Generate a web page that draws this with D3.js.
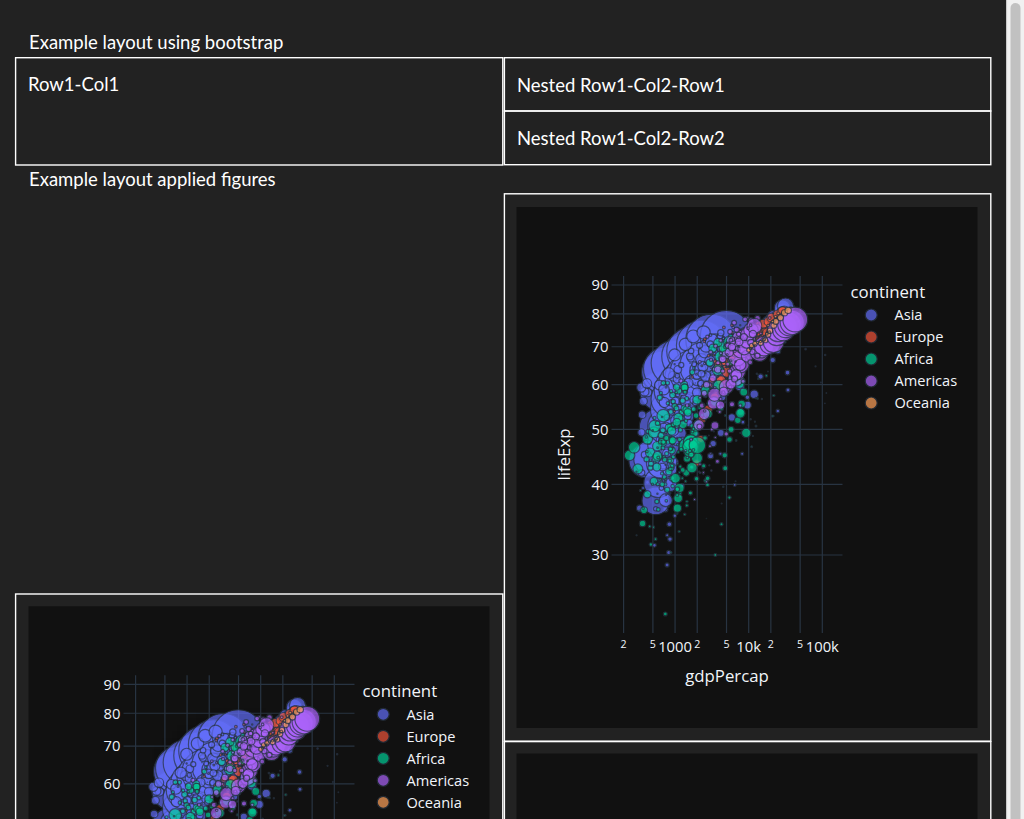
<!DOCTYPE html>
<html><head><meta charset="utf-8">
<script src="https://cdn.jsdelivr.net/npm/d3@7"></script>
<style>
html,body{margin:0;padding:0;background:#222222;overflow:hidden;}
svg{display:block;}
</style></head><body>
<svg id="page" width="1024" height="819"></svg>
<script>
// ---------------- data (gdpPercap, lifeExp, pop in millions) ----------------
const continents = ["Asia","Europe","Africa","Americas","Oceania"];
const colors = ["#636efa","#EF553B","#00cc96","#ab63fa","#FFA15A"];

const asia = [
[779,28.8,8.4],[821,30.3,9.2],[853,32.0,10.3],[836,34.0,11.5],[740,36.1,13.1],[786,38.4,14.9],[978,39.9,12.9],[852,40.8,13.9],[649,41.7,16.3],[635,41.8,22.2],[727,42.1,25.3],[975,43.8,31.9],
[9867,50.9,0.12],[12753,56.9,0.17],[18268,63.3,0.23],[19211,69.1,0.38],[19036,72.6,0.53],[23404,74.8,0.66],[29796,75.6,0.71],
[684,37.5,46.9],[662,39.3,51.4],[686,41.2,56.8],[721,43.5,62.8],[630,45.3,70.8],[660,46.9,80.4],[677,50.0,93.1],[752,52.8,103.8],[838,56.0,113.7],[973,59.4,123.3],[1136,62.0,135.7],[1391,64.1,150.4],
[368,39.4,4.7],[497,43.4,6.1],[422,40.3,7.5],[525,31.2,7.0],[625,51.0,7.3],[682,55.8,10.2],[896,56.8,12.9],[1714,59.7,14.1],
[400,44.0,556.3],[576,50.5,637.4],[488,44.5,665.8],[613,58.4,754.6],[677,63.1,862.0],[741,64.0,943.5],[962,65.5,1000.3],[1379,67.3,1084.0],[1656,68.7,1165.0],[2289,70.4,1230.1],[3119,72.0,1280.4],[4959,73.0,1318.7],
[3054,61.0,2.1],[4693,67.7,3.3],[8315,72.0,4.1],[14561,75.5,5.3],[24758,77.6,5.8],[30209,81.5,6.8],[39725,82.2,7.0],
[547,37.4,372.0],[590,40.2,409.0],[658,43.6,454.0],[701,47.2,506.0],[724,50.7,567.0],[813,54.2,634.0],[856,56.6,708.0],[977,58.6,788.0],[1164,60.2,872.0],[1459,61.8,959.0],[1747,62.9,1034.2],[2452,64.7,1110.4],
[750,37.5,82.1],[859,39.9,90.1],[849,42.5,99.0],[762,46.0,109.3],[1111,49.2,121.3],[1383,52.7,136.7],[1517,56.2,153.3],[1748,60.1,169.3],[2383,62.7,184.8],[3119,66.0,199.3],[2874,68.6,211.1],[3541,70.6,223.5],
[3035,44.9,17.3],[3290,47.2,19.8],[4187,49.3,22.9],[5907,52.5,26.5],[9614,55.2,30.6],[11889,57.7,35.5],[7608,59.6,43.1],[6643,63.0,51.9],[7235,65.7,60.4],[8264,68.0,63.5],[9241,69.5,66.9],[11606,71.0,69.5],
[4130,45.3,5.4],[8342,51.5,7.2],[9576,57.0,10.1],[14517,62.0,14.2],[3746,59.5,17.9],[4391,57.0,24.0],[4471,59.5,27.5],
[4087,65.4,1.6],[7106,69.4,2.3],[12786,71.6,3.1],[15367,74.5,3.9],[18051,76.9,4.9],[21906,79.7,6.0],[25523,80.7,6.4],
[3217,63.0,86.5],[4318,65.5,91.6],[6577,68.7,95.8],[9847,71.4,100.8],[14779,73.4,107.2],[16610,75.4,113.9],[19384,77.1,118.5],[22376,78.7,122.1],[26825,79.4,124.3],[28817,80.7,125.6],[28605,82.0,127.1],[31656,82.6,127.5],
[1547,43.2,0.6],[2348,48.1,0.9],[2110,56.5,1.6],[4162,63.7,2.3],[3431,68.0,3.9],[3845,71.3,5.3],[4519,72.5,6.1],
[1088,50.1,8.9],[1621,56.7,11.0],[3702,64.0,14.8],[4107,69.1,17.6],[3726,70.0,20.7],[1647,66.7,22.2],[1593,67.3,23.3],
[1031,47.5,20.9],[1488,52.7,22.6],[1536,55.3,26.4],[2029,57.7,30.1],[3031,62.6,33.5],[4657,64.8,36.4],[5623,67.1,39.3],[8533,69.8,41.6],[12104,72.2,43.8],[15994,74.6,46.2],[19234,77.0,48.0],[23348,78.6,49.0],
[108382,55.6,0.16],[113523,58.0,0.21],[95458,60.5,0.36],[80895,64.6,0.58],[109348,67.7,0.84],[59265,69.3,1.14],[31354,71.3,1.5],[28118,74.2,1.9],[34933,75.2,1.4],[35110,76.9,2.1],[47307,77.6,2.5],
[4835,55.9,1.4],[5715,62.1,1.9],[7486,65.4,2.7],[7640,67.0,3.1],[6890,69.3,3.2],[9313,71.0,3.7],[10461,72.0,3.9],
[1831,48.5,6.7],[2036,55.7,8.9],[2849,63.0,11.4],[4920,68.0,14.4],[7739,70.7,18.3],[10207,73.0,22.7],[12452,74.2,24.8],
[786,42.2,0.8],[1056,48.3,1.0],[1422,53.8,1.3],[2000,57.5,1.8],[1786,61.3,2.3],[2140,65.0,2.7],[3096,66.8,2.9],
[331,36.3,20.1],[350,41.9,21.7],[388,45.1,23.6],[349,49.4,25.9],[357,53.1,28.5],[371,56.1,31.5],[424,58.1,34.7],[385,58.3,38.0],[347,59.3,40.5],[415,60.3,43.2],[611,59.9,45.6],[944,62.1,47.8],
[546,36.2,9.2],[652,39.4,10.3],[674,44.0,12.4],[718,49.6,15.8],[775,52.5,17.2],[898,55.7,20.3],[1057,61.3,25.9],[1091,63.8,28.9],
[1828,37.6,0.5],[2925,43.2,0.63],[10619,52.1,0.83],[12955,62.7,1.3],[18617,71.2,1.9],[19775,74.2,2.7],[22316,75.6,3.2],
[685,43.4,41.3],[747,45.6,46.7],[803,47.7,53.1],[942,49.8,60.6],[1050,51.9,69.3],[1176,54.0,78.2],[1444,56.2,91.5],[1705,58.2,105.2],[1972,60.8,120.1],[2050,61.8,135.6],[2093,63.6,153.4],[2606,65.5,169.3],
[1273,47.8,22.4],[1548,51.3,26.1],[1650,54.8,30.3],[1814,56.4,35.4],[1989,58.1,40.9],[2374,60.1,46.9],[2603,62.1,53.5],[2190,64.2,60.0],[2279,66.5,67.2],[2536,68.6,75.0],[2651,70.3,83.0],[3190,71.7,91.1],
[6460,39.9,4.0],[8158,45.3,4.9],[24837,53.9,6.5],[34168,58.7,8.1],[33693,63.0,11.3],[21199,66.3,14.6],[24841,68.8,16.9],[19014,71.6,24.5],[21655,72.8,27.6],
[2315,60.4,1.1],[3675,65.8,1.75],[8598,69.5,2.2],[15169,71.8,2.65],[24770,75.8,3.2],[36023,78.8,4.2],[47143,80.0,4.55],
[1084,57.6,8.0],[1074,62.2,10.4],[1213,65.0,13.0],[1648,68.8,15.4],[2154,70.4,17.6],[3016,70.8,19.6],[3970,72.4,20.4],
[1644,45.9,3.7],[2193,51.0,4.8],[2571,57.3,6.7],[3761,64.6,9.4],[3341,69.2,13.2],[4090,73.1,17.2],[4185,74.1,19.3],
[1207,58.5,8.6],[1822,65.2,11.9],[4062,69.4,15.2],[7427,72.2,18.5],[15216,74.3,20.7],[23235,77.0,22.5],[28718,78.4,23.2],
[758,50.8,21.3],[874,53.6,25.0],[1003,56.1,29.3],[1287,58.3,34.0],[1525,60.4,39.3],[1961,62.5,44.1],[2394,64.6,48.8],[2982,66.1,52.9],[4616,67.3,56.7],[5853,67.5,60.0],[5913,68.6,62.8],[7458,70.6,65.1],
[605,40.4,26.2],[676,42.9,28.9],[772,45.4,33.8],[637,47.8,39.5],[700,50.3,44.7],[714,55.8,50.5],[707,58.8,56.1],[821,62.8,62.8],[989,67.7,69.9],[1386,70.7,76.0],[1764,73.0,80.9],[2442,74.2,85.3],
[1516,43.2,1.0],[2348,48.1,1.1],[3133,56.5,1.1],[4336,64.4,1.4],[6018,69.7,1.9],[4516,72.4,3.4],[3025,73.4,4.0],
[782,32.5,5.0],[992,35.2,6.1],[1265,39.8,7.4],[1978,49.1,9.7],[1879,55.6,13.4],[2235,60.3,18.7],[2281,62.7,22.2]
];

const europe = [
[1601,55.2,1.3],[2313,64.8,1.7],[3313,67.7,2.3],[3631,70.4,2.8],[2497,71.6,3.3],[4604,75.7,3.5],[5937,76.4,3.6],
[6137,66.8,6.9],[10751,69.5,7.1],[16662,70.6,7.5],[21597,73.2,7.6],[27042,76.0,7.9],[32418,79.0,8.1],[36126,79.8,8.2],
[8343,68.0,8.7],[10991,70.3,9.2],[19118,71.4,9.7],[23030,73.9,9.9],[25576,76.5,10.0],[30486,78.3,10.3],[33693,79.4,10.4],
[974,53.8,2.8],[1710,61.9,3.3],[2860,67.5,3.8],[4126,70.7,4.2],[2547,72.2,4.3],[6019,74.1,4.2],[7446,74.9,4.6],
[2444,59.6,7.3],[4255,69.5,8.0],[6597,70.9,8.6],[8224,71.1,8.9],[6303,71.2,8.7],[7697,72.1,7.7],[10681,73.0,7.3],
[3119,61.2,3.9],[5477,67.1,4.1],[9164,69.6,4.2],[13221,70.5,4.4],[8448,72.5,4.5],[11628,74.9,4.5],[14619,75.7,4.5],
[6876,66.9,9.1],[10137,69.9,9.6],[13108,70.3,9.9],[15377,71.0,10.3],[14297,72.4,10.3],[17596,75.5,10.3],[22833,76.5,10.2],
[9692,70.8,4.3],[13583,72.4,4.6],[18866,73.5,5.0],[21688,74.6,5.1],[26407,75.3,5.2],[32167,77.2,5.4],[35278,78.3,5.5],
[6425,66.6,4.1],[9372,68.8,4.5],[14359,70.9,4.6],[18533,74.6,4.8],[20647,75.7,5.0],[28205,78.4,5.2],[33207,79.3,5.2],
[7030,67.4,42.5],[8663,68.9,44.3],[10560,70.5,47.1],[12999,71.6,49.9],[16107,72.4,51.7],[18293,73.8,53.2],[20294,74.9,54.4],[22066,76.3,55.6],[24704,77.5,57.4],[25890,78.6,58.6],[28926,79.6,59.9],[30470,80.7,61.1],
[7144,67.5,69.1],[10188,69.1,71.0],[12902,70.3,73.7],[14746,70.8,76.4],[18016,71.0,78.7],[20513,72.5,78.2],[22032,73.8,78.3],[24639,74.8,77.7],[26505,76.1,80.6],[27789,77.3,82.0],[30036,78.7,82.4],[32170,79.4,82.4],
[3531,65.9,7.7],[6017,69.5,8.4],[12725,72.3,8.9],[15268,75.2,9.8],[17541,77.0,10.3],[22514,78.3,10.6],[27538,79.5,10.7],
[5264,64.0,9.5],[7550,68.0,10.0],[10168,69.8,10.4],[12546,69.4,10.7],[10536,69.2,10.3],[14843,72.6,10.1],[18009,73.3,10.0],
[7268,72.5,0.15],[10350,73.7,0.18],[15798,74.5,0.21],[23270,77.0,0.23],[25144,78.8,0.26],[31163,80.5,0.29],[36181,81.8,0.3],
[5211,66.9,2.95],[6632,70.3,2.8],[9530,71.3,3.0],[12618,73.1,3.5],[17559,75.5,3.56],[34077,77.8,3.9],[40676,78.9,4.1],
[4931,65.9,47.7],[6249,67.8,49.2],[8244,69.2,50.8],[10022,71.1,52.7],[12269,72.2,54.4],[14256,73.5,56.1],[16537,75.0,56.5],[19208,76.4,56.7],[22014,77.4,56.8],[24675,78.8,57.5],[27968,80.2,57.9],[28570,80.5,58.1],
[2648,59.2,0.41],[7778,70.6,0.53],[7003,75.4,0.62],[9254,74.5,0.68],
[8942,72.1,10.4],[12791,73.2,11.8],[18795,73.8,13.3],[21399,76.0,14.3],[26791,77.4,15.2],[33725,78.5,16.1],[36798,79.8,16.6],
[10095,72.7,3.3],[13450,73.5,3.6],[18965,74.3,3.9],[26299,76.0,4.1],[33966,77.3,4.3],[44684,79.1,4.5],[49357,80.2,4.6],
[4029,61.3,25.7],[4734,65.8,28.2],[5339,67.6,30.3],[6557,69.6,31.8],[8007,70.9,33.0],[9508,70.7,34.6],[8451,71.3,36.2],[9082,71.0,37.7],[7739,71.0,38.4],[10160,72.8,38.65],[12002,74.7,38.6],[15390,75.6,38.5],
[3068,59.8,8.5],[4728,64.4,9.0],[9022,69.3,9.0],[11753,72.8,9.9],[16207,74.9,9.9],[19971,77.3,10.4],[20510,78.1,10.6],
[3145,61.1,16.6],[4734,66.8,18.7],[8011,69.2,20.7],[9605,69.7,22.4],[6598,69.4,22.8],[7992,71.3,22.4],[10808,72.5,22.3],
[3581,58.0,6.7],[6289,64.5,7.6],[10523,68.7,8.3],[15182,70.2,9.0],[9325,71.7,9.8],[7236,73.2,10.1],[9787,74.0,10.2],
[5074,64.4,3.6],[11402,70.4,4.6],[9498,71.4,5.3],[18678,74.7,5.4],
[4215,65.6,1.5],[12383,69.8,1.7],[14214,73.6,2.0],[25768,77.9,2.0],
[3834,64.9,28.5],[4564,66.7,29.8],[5694,69.7,31.2],[7994,71.4,32.9],[10639,73.1,34.5],[13236,74.4,36.4],[13926,76.3,38.0],[15765,76.9,38.9],[18603,77.6,39.5],[20445,78.8,39.9],[24835,79.8,40.2],[28821,80.9,40.4],
[8528,71.9,7.1],[12329,73.4,7.6],[17832,74.7,8.1],[20667,76.4,8.3],[23880,78.2,8.7],[29342,80.0,8.95],[33860,80.9,9.0],
[14734,69.6,4.8],[20431,71.3,5.7],[27195,73.8,6.4],[28398,76.2,6.5],[31872,78.0,7.0],[34481,80.6,7.4],[37506,81.7,7.55],
[1969,43.6,22.2],[2219,48.1,25.7],[2323,52.1,29.8],[2827,54.3,33.4],[3451,57.0,37.5],[4269,59.5,42.4],[4241,61.0,47.3],[5090,63.1,52.9],[5678,66.1,58.2],[6601,68.8,63.0],[6508,70.8,67.3],[8458,71.8,71.2],
[9980,69.2,50.4],[11283,70.4,51.4],[12477,70.8,53.3],[14143,71.4,55.0],[15895,72.0,56.1],[17429,72.8,56.2],[18232,74.0,56.3],[21665,75.0,57.0],[22705,76.4,57.9],[26074,77.2,58.8],[29479,78.5,59.9],[33203,79.4,60.8]
];

const africa = [
[2449,43.1,9.3],[2551,48.3,11.0],[4183,54.5,14.8],[4910,58.0,17.2],[5745,61.4,20.0],[5681,65.8,23.3],[5023,67.7,26.3],[4797,69.2,29.1],[5288,71.0,31.3],[6223,72.3,33.3],
[3521,30.0,4.2],[4269,34.0,4.8],[5473,37.9,5.9],[2757,39.9,7.0],[2628,40.6,8.7],[2773,41.0,10.9],[4797,42.7,12.4],
[1063,38.2,1.7],[1086,47.0,2.8],[1191,53.9,5.0],[1441,56.7,8.1],
[851,47.6,0.44],[2263,56.0,0.62],[6012,61.5,0.97],[7954,62.7,1.34],[11004,46.6,1.63],[12570,50.7,1.64],
[543,32.0,4.5],[618,40.7,5.6],[807,48.1,6.6],[944,50.3,10.4],[1217,52.3,14.3],
[339,39.0,2.4],[464,44.1,3.5],[632,44.7,5.8],[446,47.4,7.0],[430,49.6,8.4],
[1173,38.5,5.0],[1509,44.8,6.3],[2367,53.0,9.3],[1793,54.3,12.5],[2042,50.4,17.7],
[1071,35.5,1.3],[1071,43.5,1.8],[748,49.4,3.3],[706,44.7,4.4],
[1179,38.1,2.7],[1104,45.6,3.9],[1058,51.7,6.4],[1704,50.7,10.2],
[1103,40.7,0.15],[1268,52.9,0.35],[986,65.2,0.71],
[781,39.1,14.1],[906,41.0,15.6],[896,43.0,17.5],[862,44.1,19.9],[905,45.9,23.0],[796,47.8,26.5],[674,47.8,30.6],[672,47.4,35.5],[458,45.5,41.7],[312,42.6,47.8],[241,45.0,55.4],[278,46.5,64.6],
[2126,42.1,0.85],[3213,54.9,1.3],[4879,57.5,1.8],[4016,56.4,2.4],[3633,55.3,3.8],
[1389,40.5,3.0],[2052,47.4,4.7],[2518,52.4,7.5],[2157,54.7,10.8],[1786,47.1,14.6],[1545,48.3,18.0],
[2670,34.8,0.06],[2880,48.8,0.31],[2082,54.8,0.5],
[1419,41.9,22.2],[1459,44.4,25.0],[1693,47.0,28.2],[1815,49.3,31.7],[2024,51.1,34.8],[2785,53.3,38.8],[3504,56.0,45.7],[3885,59.8,52.8],[3795,63.7,59.4],[4173,67.2,66.1],[4755,69.8,73.3],[5581,71.3,80.3],
[376,34.5,0.22],[672,40.5,0.28],[1132,47.5,0.39],[7703,49.3,0.5],[12154,51.6,0.55],
[329,35.9,1.4],[515,44.5,2.3],[582,50.0,3.7],[641,58.0,4.9],
[362,34.1,20.9],[379,36.0,22.8],[420,38.4,25.1],[516,40.5,27.9],[566,42.9,31.0],[556,44.5,34.6],[578,44.9,38.1],[574,46.7,43.0],[421,48.1,52.1],[516,49.4,59.9],[530,50.7,67.0],[691,52.9,76.5],
[4293,37.0,0.42],[6631,40.5,0.46],[11401,48.7,0.54],[21746,52.8,0.71],[15113,56.6,0.75],[13522,61.4,0.99],[12522,56.8,1.3],[13206,56.7,1.45],
[485,30.0,0.28],[756,38.3,0.5],[666,52.6,1.0],[753,59.4,1.7],
[911,43.1,5.6],[1190,46.5,7.4],[1178,49.9,9.4],[876,53.7,11.4],[925,57.5,16.3],[1111,58.5,20.6],[1328,60.0,22.9],
[510,33.6,2.7],[741,40.8,3.9],[794,48.6,7.0],[943,56.0,9.9],
[300,32.5,0.58],[820,36.5,0.63],[746,43.3,1.05],[579,46.4,1.5],
[854,42.3,6.5],[944,44.7,7.5],[897,47.9,8.7],[1057,50.7,10.2],[1222,53.6,12.2],[1268,56.2,14.7],[1348,58.8,17.7],[1362,59.3,21.2],[1342,59.3,25.0],[1360,54.4,28.3],[1288,51.0,31.4],[1463,54.1,35.6],
[299,42.1,0.75],[497,49.8,1.1],[977,59.7,1.8],[1569,42.6,2.0],
[576,38.5,0.86],[803,42.6,1.5],[636,40.8,1.9],[531,43.8,2.8],[415,45.7,3.2],
[2388,42.7,1.0],[6757,47.8,1.4],[21011,52.8,2.2],[21951,57.4,2.7],[17364,62.2,3.3],[9640,68.8,4.4],[9535,72.7,5.4],[12057,74.0,6.0],
[1443,36.7,4.8],[1634,42.9,6.3],[1156,48.0,9.2],[986,55.0,14.2],[1045,59.4,19.2],
[369,36.3,2.9],[665,41.8,4.7],[635,47.5,7.8],[692,47.5,10.4],[759,48.3,13.3],
[452,33.7,3.8],[581,40.0,5.5],[685,46.4,7.6],[1043,54.5,12.0],
[744,40.5,1.0],[1586,48.4,1.3],[1361,58.3,2.1],[1803,64.2,3.3],
[1968,51.0,0.52],[2575,62.9,0.85],[6058,69.7,1.1],[10957,72.8,1.25],
[1688,42.9,9.9],[1598,47.9,13.0],[1930,52.9,16.7],[2702,59.7,20.2],[2948,65.6,25.0],[3258,69.6,31.2],[3820,71.2,33.8],
[469,31.3,6.4],[566,37.3,8.7],[462,42.8,12.7],[410,44.3,13.2],[824,42.1,20.0],
[2424,41.7,0.49],[3746,53.9,0.82],[3804,62.0,1.55],[4811,52.9,2.06],
[761,37.4,3.4],[954,40.5,5.1],[909,42.6,6.4],[580,51.3,10.0],[620,56.9,12.9],
[1077,36.3,33.1],[1101,37.8,37.2],[1151,39.4,41.9],[1015,41.0,47.3],[1698,42.8,53.7],[1982,44.5,62.2],[1577,45.8,73.0],[1385,46.9,81.6],[1620,47.5,93.4],[1625,47.5,106.2],[1615,46.6,119.9],[2014,46.9,135.0],
[2719,52.7,0.26],[5047,64.3,0.46],[6101,73.6,0.62],[7670,76.4,0.8],
[493,40.0,2.5],[591,44.6,4.0],[882,46.2,5.5],[848,44.0,6.3],[737,23.6,7.3],[590,36.1,7.2],[863,46.2,8.9],
[880,46.5,0.06],[1890,60.4,0.1],[1598,65.5,0.2],
[1450,37.3,2.8],[1598,45.8,4.6],[1367,58.2,8.3],[1712,63.1,12.3],
[880,30.3,2.1],[1354,35.4,2.9],[1068,38.3,4.3],[699,41.0,5.4],[863,42.6,6.1],
[1136,33.0,2.5],[1254,41.0,3.8],[1177,43.0,5.8],[927,39.7,6.1],[926,48.2,9.1],
[4725,45.0,14.3],[5487,48.0,16.2],[5769,50.0,18.4],[7114,51.9,21.0],[7765,53.7,23.9],[8028,55.5,27.1],[8568,58.2,31.1],[7826,60.8,35.9],[7225,61.9,40.0],[7479,60.2,42.8],[7710,53.4,44.4],[9270,49.3,44.0],
[1615,38.6,8.5],[1959,40.9,11.2],[1659,45.1,14.6],[1895,50.3,20.4],[1492,53.6,28.2],[1993,56.4,37.1],[2602,58.6,42.3],
[1149,41.4,0.29],[3364,49.6,0.48],[3553,58.5,0.96],[4513,39.6,1.1],
[717,41.2,8.3],[722,44.2,10.9],[915,47.6,14.8],[875,50.6,19.8],[825,50.4,26.6],[899,49.7,34.6],[1107,52.5,38.1],
[859,38.6,1.2],[1650,49.8,2.1],[1035,58.1,3.7],[883,58.4,5.7],
[1469,44.6,3.6],[1717,49.6,4.3],[2850,55.6,5.3],[4300,64.0,6.7],[4871,70.0,8.5],[5723,73.0,9.8],[7093,73.9,10.3],
[735,40.0,5.8],[768,45.3,7.7],[950,51.0,10.2],[682,49.8,13.0],[645,48.8,18.3],[928,47.8,24.7],[1056,51.5,29.2],
[1147,42.0,2.7],[1777,46.0,3.4],[1773,50.1,4.5],[1408,51.8,6.1],[1210,46.1,8.4],[1071,39.2,10.6],[1271,42.4,11.7],
[407,48.5,3.1],[527,52.4,4.3],[799,55.6,5.9],[789,60.4,7.6],[693,60.4,10.7],[672,40.0,11.9],[470,43.5,12.3]
];

const americas = [
[5911,62.5,17.9],[6857,64.4,19.6],[7133,65.1,21.3],[8053,65.6,22.9],[9443,67.1,24.8],[10079,68.5,27.0],[8998,69.9,29.3],[9140,70.8,31.6],[9308,71.9,34.0],[10967,73.3,36.2],[8798,74.3,38.3],[12779,75.3,40.3],
[2677,40.4,2.9],[2181,43.4,3.6],[2980,46.7,4.6],[3157,50.0,5.6],[2962,60.0,6.9],[3413,63.9,8.4],[3822,65.6,9.1],
[2109,50.9,56.6],[2487,53.3,65.6],[3337,55.7,76.0],[3430,57.6,88.0],[4986,59.5,100.8],[6660,61.5,114.3],[7031,63.3,128.96],[7807,65.2,142.9],[6950,67.1,155.98],[7958,69.4,168.5],[8131,71.0,179.9],[9066,72.4,190.0],
[11367,68.8,14.8],[12490,70.0,17.0],[13462,71.3,19.0],[16077,72.1,20.8],[18971,72.9,22.3],[22091,74.2,23.8],[22899,75.8,25.2],[26627,76.9,26.5],[26343,78.0,28.5],[28955,78.6,30.3],[33329,79.8,31.9],[36319,80.7,33.4],
[3940,54.7,6.4],[4520,57.9,8.0],[5494,63.4,9.7],[5096,70.6,11.5],[7596,74.1,13.6],[10779,77.9,15.5],[13172,78.6,16.3],
[2144,50.6,12.4],[2324,55.1,14.5],[2492,57.9,17.0],[2679,60.0,19.8],[3265,61.6,22.5],[3816,63.8,25.1],[4398,66.7,27.8],[4903,67.8,31.0],[5445,68.4,34.2],[6117,70.3,37.7],[5755,71.7,41.0],[7007,72.9,44.2],
[2627,57.2,0.93],[5118,67.8,1.8],[6160,75.7,3.2],[9645,78.8,4.1],
[5587,59.4,6.0],[5181,65.2,7.3],[5305,70.7,8.8],[7317,73.7,9.8],[5593,74.4,10.7],[6341,77.2,11.2],[8948,78.3,11.4],
[1398,45.9,2.5],[2189,56.9,4.7],[3045,68.5,7.35],[6025,72.2,9.3],
[3522,48.4,3.5],[5281,58.8,6.3],[7213,64.3,8.4],[7103,69.6,10.7],[6873,75.0,13.8],
[3048,45.3,2.0],[4520,58.2,3.8],[4140,56.6,4.8],[4444,66.8,5.3],[5728,71.9,6.9],
[2428,42.0,3.1],[4031,53.7,5.4],[4440,63.4,8.9],[5186,70.3,12.6],
[1840,37.6,3.2],[1654,48.0,4.7],[1457,55.1,6.3],[1202,60.9,8.5],
[2195,41.9,1.5],[2529,53.9,2.9],[3082,66.4,5.1],[3548,70.2,7.5],
[2899,58.5,1.4],[7434,69.0,2.0],[7405,71.8,2.4],[7321,72.6,2.8],
[3478,50.8,30.1],[4132,55.2,35.0],[4582,58.3,41.1],[5755,60.1,47.99],[6809,62.4,55.98],[7675,65.0,63.8],[9611,67.4,71.6],[8688,69.5,80.1],[9472,71.5,88.1],[9767,73.7,95.9],[10742,74.9,102.5],[11978,76.2,108.7],
[3112,42.3,1.2],[5839,55.2,2.2],[3470,59.3,3.0],[2170,65.8,4.0],[2749,72.9,5.7],
[2480,55.2,0.94],[5365,66.2,1.6],[6619,72.5,2.5],[9809,75.5,3.2],
[1953,62.6,1.6],[2523,65.4,2.6],[4197,68.2,4.5],[4173,71.8,6.7],
[3759,43.9,8.0],[4957,49.1,10.5],[5938,55.4,14.0],[6435,61.4,18.1],[4446,66.5,22.4],[5909,69.9,26.8],[7409,71.4,28.7],
[3082,64.3,2.2],[9123,72.2,2.8],[14642,73.9,3.6],[19329,78.7,3.9],
[3024,59.1,0.66],[6619,65.9,0.98],[7370,69.9,1.2],[18009,69.8,1.06],
[13990,68.4,157.6],[14847,69.5,171.98],[16173,70.2,186.5],[19530,70.8,198.7],[21806,71.3,209.9],[24073,73.4,220.2],[25010,74.7,232.2],[29884,75.0,242.8],[32004,76.1,256.9],[35767,76.8,272.9],[39097,77.3,287.7],[42952,78.2,301.1],
[5717,66.1,2.25],[6504,68.7,2.8],[8137,72.8,3.1],[10611,76.4,3.45],
[7690,55.1,5.4],[8422,60.8,8.1],[10506,65.7,11.5],[13144,67.5,13.5],[11152,68.6,15.6],[10734,71.2,20.3],[8605,72.8,24.3],[11416,73.7,26.1]
];

const oceania = [
[10040,69.1,8.7],[10950,70.3,9.7],[12217,70.9,10.8],[14526,71.1,11.9],[16789,71.9,13.2],[18334,73.5,14.1],[19477,74.7,15.2],[21889,76.3,16.3],[23425,77.6,17.5],[26998,78.8,18.6],[30688,80.4,19.5],[34435,81.2,20.4],
[10557,69.4,2.0],[12247,70.3,2.2],[13176,71.2,2.5],[14464,71.5,2.7],[16046,71.9,2.9],[16234,72.2,3.2],[17632,73.8,3.2],[19007,74.3,3.3],[18363,76.3,3.4],[21050,77.6,3.7],[23190,79.1,3.9],[25185,80.2,4.1]
];

const seriesData = [asia, europe, africa, americas, oceania];
const yTicks = [30,40,50,60,70,80,90];
const xTicks = [200,500,1000,2000,5000,10000,20000,50000,100000];
const xTickLabels = ["2","5","1000","2","5","10k","2","5","100k"];
const xTickMajor = [false,false,true,false,false,true,false,false,true];

// ---------------- drawing ----------------
const svg = d3.select("#page");
const FONT_LAYOUT = "Lato, 'Open Sans', sans-serif";
const FONT_PLOT = "'Open Sans', verdana, arial, sans-serif";
const TXT = "#f2f5fa";
const GRID = "#283442";

svg.append("rect").attr("width",1024).attr("height",819).attr("fill","#222222");

function box(x, y, w, h) {
  svg.append("rect").attr("x",x).attr("y",y).attr("width",w).attr("height",h)
    .attr("fill","none").attr("stroke","#ffffff").attr("stroke-width",1.4);
}
function label(t, x, y) {
  svg.append("text").attr("x",x).attr("y",y).attr("fill","#ffffff")
    .attr("font-family",FONT_LAYOUT).attr("font-size",18.5).text(t);
}

label("Example layout using bootstrap", 29, 49);
box(15.6, 57.7, 487.2, 107.3);
label("Row1-Col1", 28, 90.5);
box(504.4, 57.7, 486.4, 53.3);
box(504.4, 111, 486.4, 53.7);
label("Nested Row1-Col2-Row1", 517, 91.5);
label("Nested Row1-Col2-Row2", 517, 144.5);
label("Example layout applied figures", 29, 186);

let clipId = 0;
function drawFigure(px, py) {
  const W = 461, H = 521;
  const g = svg.append("g").attr("transform", `translate(${px},${py})`);
  g.append("rect").attr("width",W).attr("height",H).attr("fill","#111111");
  const L = 95, T = 69, R = 326, B = 426;
  const x = d3.scaleLog().domain([137, 188000]).range([L, R]);
  const y = d3.scaleLog().domain([21.84, 93.35]).range([B, T]);
  const r = d3.scaleSqrt().domain([0, 1318.7]).range([0, 26]);

  // grid
  g.append("g").selectAll("line").data(xTicks).join("line")
    .attr("x1", d => x(d)).attr("x2", d => x(d)).attr("y1", T).attr("y2", B)
    .attr("stroke", GRID).attr("stroke-width", 1.2);
  g.append("g").selectAll("line").data(yTicks).join("line")
    .attr("y1", d => y(d)).attr("y2", d => y(d)).attr("x1", L).attr("x2", R)
    .attr("stroke", GRID).attr("stroke-width", 1.2);

  // markers
  const id = "clip" + (clipId++);
  g.append("clipPath").attr("id", id).append("rect")
    .attr("x", L).attr("y", T).attr("width", R - L).attr("height", B - T);
  const plot = g.append("g").attr("clip-path", `url(#${id})`);
  seriesData.forEach((rows, i) => {
    plot.append("g").selectAll("circle").data(rows).join("circle")
      .attr("cx", d => x(d[0])).attr("cy", d => y(d[1])).attr("r", d => r(d[2]))
      .attr("fill", colors[i]).attr("stroke", GRID).attr("stroke-width", 1.2)
      .attr("opacity", 0.7);
  });

  // y tick labels
  g.append("g").selectAll("text").data(yTicks).join("text")
    .attr("x", L - 3).attr("y", d => y(d)).attr("dy", "0.36em")
    .attr("text-anchor", "end").attr("fill", TXT)
    .attr("font-family", FONT_PLOT).attr("font-size", 14.8).text(d => d);
  // x tick labels
  g.append("g").selectAll("text").data(xTicks).join("text")
    .attr("x", d => x(d))
    .attr("y", (d, i) => xTickMajor[i] ? 444.8 : 440.5)
    .attr("text-anchor", "middle").attr("fill", TXT)
    .attr("font-family", FONT_PLOT)
    .attr("font-size", (d, i) => xTickMajor[i] ? 14.8 : 10.6)
    .text((d, i) => xTickLabels[i]);

  // axis titles
  g.append("text").attr("x", (L + R) / 2).attr("y", 475).attr("text-anchor", "middle")
    .attr("fill", TXT).attr("font-family", FONT_PLOT).attr("font-size", 16.8).text("gdpPercap");
  g.append("text").attr("transform", `translate(53,${(T + B) / 2}) rotate(-90)`)
    .attr("text-anchor", "middle").attr("fill", TXT)
    .attr("font-family", FONT_PLOT).attr("font-size", 16.8).text("lifeExp");

  // legend
  const lg = g.append("g");
  lg.append("text").attr("x", 334).attr("y", 91).attr("fill", TXT)
    .attr("font-family", FONT_PLOT).attr("font-size", 16.8).text("continent");
  const items = lg.selectAll("g.item").data(continents).join("g").attr("class","item")
    .attr("transform", (d, i) => `translate(0,${108 + i * 22})`);
  items.append("circle").attr("cx", 354.7).attr("cy", 0).attr("r", 6)
    .attr("fill", (d, i) => colors[i]).attr("stroke", GRID).attr("stroke-width", 1.2).attr("opacity", 0.7);
  items.append("text").attr("x", 378).attr("y", 0).attr("dy", "0.36em").attr("fill", TXT)
    .attr("font-family", FONT_PLOT).attr("font-size", 14.6).text(d => d);
}

// right column, first figure
box(504.4, 193.8, 486.4, 547.4);
drawFigure(516.5, 207);
// right column, second figure (continues below the window)
box(504.4, 741.6, 486.4, 560);
drawFigure(516.5, 753.5);
// left column figure
box(15.6, 594, 487.2, 560);
drawFigure(28.5, 606.3);

// scrollbar
svg.append("rect").attr("x",1006.5).attr("y",0).attr("width",17.5).attr("height",819).attr("fill","#f1f1f1");
svg.append("line").attr("x1",1006.8).attr("x2",1006.8).attr("y1",0).attr("y2",819).attr("stroke","#e4e4e4").attr("stroke-width",1);
svg.append("rect").attr("x",1010.5).attr("y",3).attr("width",10).attr("height",840).attr("rx",5).attr("fill","#c1c1c1");
</script>
</body></html>
